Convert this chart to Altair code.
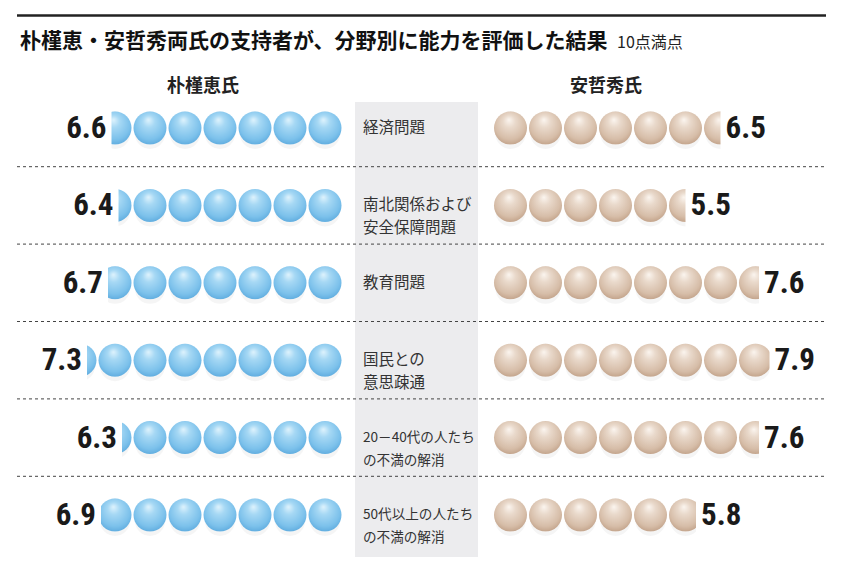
import math
import altair as alt
import pandas as pd

# ---- data ----
categories = ["経済問題", "南北関係および\n安全保障問題", "教育問題", "国民との\n意思疎通",
              "20－40代の人たち\nの不満の解消", "50代以上の人たち\nの不満の解消"]
park = [6.6, 6.4, 6.7, 7.3, 6.3, 6.9]
ahn = [6.5, 5.5, 7.6, 7.9, 7.6, 5.8]
title_text = "朴槿恵・安哲秀両氏の支持者が、分野別に能力を評価した結果"
note_text = "10点満点"
left_name = "朴槿恵氏"
right_name = "安哲秀氏"

# ---- layout constants ----
W, H = 826, 566
PITCH = 35.0          # px per ball unit
LEFT_ANCHOR = 334.5   # px, inner edge of left balls
GAP = 4.3             # ball units between left and right anchors
ROW0 = 120.0          # px, centre of first row
ROWP = 77.4           # px per row

xs = alt.Scale(domain=[-LEFT_ANCHOR / PITCH, (W - LEFT_ANCHOR) / PITCH], nice=False, zero=False)
ys = alt.Scale(domain=[-ROW0 / ROWP, (H - ROW0) / ROWP], nice=False, zero=False, reverse=True)

rows = pd.DataFrame({"r": list(range(len(categories))), "cat": categories, "park": park, "ahn": ahn})
rows["park_x"] = -rows["park"]
rows["ahn_x"] = GAP + rows["ahn"]
rows["park_lbl"] = rows["park"].map(lambda v: f"{v:.1f}")
rows["ahn_lbl"] = rows["ahn"].map(lambda v: f"{v:.1f}")
rows["fs"] = rows["cat"].map(lambda s: 15.5 if max(len(t) for t in s.split("\n")) <= 7 else 13.6)

balls_l = pd.DataFrame([{"r": r, "x": -(i + 0.5)} for r, v in enumerate(park) for i in range(math.ceil(v))])
balls_r = pd.DataFrame([{"r": r, "x": GAP + i + 0.5} for r, v in enumerate(ahn) for i in range(math.ceil(v))])
mask_l = pd.DataFrame([{"x": -v, "x2": -math.ceil(v) - 0.3, "y": r - 0.3, "y2": r + 0.3} for r, v in enumerate(park)])
mask_r = pd.DataFrame([{"x": GAP + v, "x2": GAP + math.ceil(v) + 0.3, "y": r - 0.3, "y2": r + 0.3} for r, v in enumerate(ahn)])
seps = pd.DataFrame({"r": [i + 0.5 for i in range(len(categories) - 1)]})

X = lambda f: alt.X(f, type="quantitative", scale=xs, axis=None)
Y = lambda f: alt.Y(f, type="quantitative", scale=ys, axis=None)

one = pd.DataFrame({"a": [0]})

band = alt.Chart(one).mark_rect(color="#ececee").encode(
    x=alt.value(347), x2=alt.value(470), y=alt.value(94), y2=alt.value(549))

top_line = alt.Chart(one).mark_rule(color="#222222", strokeWidth=2.5).encode(
    x=alt.value(9), x2=alt.value(818), y=alt.value(7.5))

rules = alt.Chart(seps).mark_rule(color="#444444", strokeWidth=1, strokeDash=[3, 3]).encode(
    y=Y("r"), x=alt.value(9), x2=alt.value(818))

def grad(c0, c1, c2, c3):
    return alt.RadialGradient(
        gradient="radial",
        stops=[alt.GradientStop(color=c0, offset=0),
               alt.GradientStop(color=c1, offset=0.3),
               alt.GradientStop(color=c2, offset=0.75),
               alt.GradientStop(color=c3, offset=1)],
        x1=0.45, y1=0.25, r1=0.0, x2=0.5, y2=0.42, r2=0.62)

blue = grad("#dff3fd", "#a6d8f4", "#7cc1eb", "#5ba9dd")
beige = grad("#fbf5ef", "#e9d9cb", "#d6bda8", "#bf9f86")

def shadow(df):
    return alt.Chart(df).mark_circle(color="#9a9a9a", opacity=0.1, size=900).encode(
        x=X("x"), y=Y("r"), yOffset=alt.value(6))

def balls(df, g):
    return alt.Chart(df).mark_point(shape="circle", filled=True, fill=g, opacity=1,
                                    strokeWidth=0, size=33 * 33).encode(x=X("x"), y=Y("r"))

def mask(df):
    return alt.Chart(df).mark_rect(color="white").encode(x=X("x"), x2="x2", y=Y("y"), y2="y2")

num_font = "Roboto Condensed"
lbl_l = alt.Chart(rows).mark_text(font=num_font, fontSize=31, fontWeight="bold", color="#1a1a1a",
                                   align="right", baseline="middle", dx=-5, dy=1).encode(
    x=X("park_x"), y=Y("r"), text="park_lbl")
lbl_r = alt.Chart(rows).mark_text(font=num_font, fontSize=31, fontWeight="bold", color="#1a1a1a",
                                   align="left", baseline="middle", dx=5, dy=1).encode(
    x=X("ahn_x"), y=Y("r"), text="ahn_lbl")

cats = alt.Chart(rows).mark_text(font="Noto Sans CJK JP", color="#333333",
                                  align="left", baseline="middle", lineBreak="\n", lineHeight=23).encode(
    x=alt.value(355), y=Y("r"), text="cat", size=alt.Size("fs:Q", scale=None, legend=None))

title = alt.Chart(one).mark_text(font="Noto Sans CJK JP", fontSize=21, fontWeight="bold", color="#111111",
                                  align="left", baseline="alphabetic").encode(
    x=alt.value(12), y=alt.value(40), text=alt.value(title_text))
note = alt.Chart(one).mark_text(font="Noto Sans CJK JP", fontSize=16, color="#222222",
                                 align="left", baseline="alphabetic").encode(
    x=alt.value(609), y=alt.value(40), text=alt.value(note_text))
head_l = alt.Chart(one).mark_text(font="Noto Sans CJK JP", fontSize=18, fontWeight="bold", color="#222222",
                                   align="center", baseline="middle").encode(
    x=alt.value(195), y=alt.value(79), text=alt.value(left_name))
head_r = alt.Chart(one).mark_text(font="Noto Sans CJK JP", fontSize=18, fontWeight="bold", color="#222222",
                                   align="center", baseline="middle").encode(
    x=alt.value(598), y=alt.value(79), text=alt.value(right_name))

chart = alt.layer(
    band, top_line, rules,
    shadow(balls_l), shadow(balls_r),
    balls(balls_l, blue), balls(balls_r, beige),
    mask(mask_l), mask(mask_r),
    lbl_l, lbl_r, cats, title, note, head_l, head_r,
).properties(width=W, height=H, padding=0).configure_view(strokeWidth=0)

chart.save("out.html", embed_options={"renderer": "svg", "actions": False})
